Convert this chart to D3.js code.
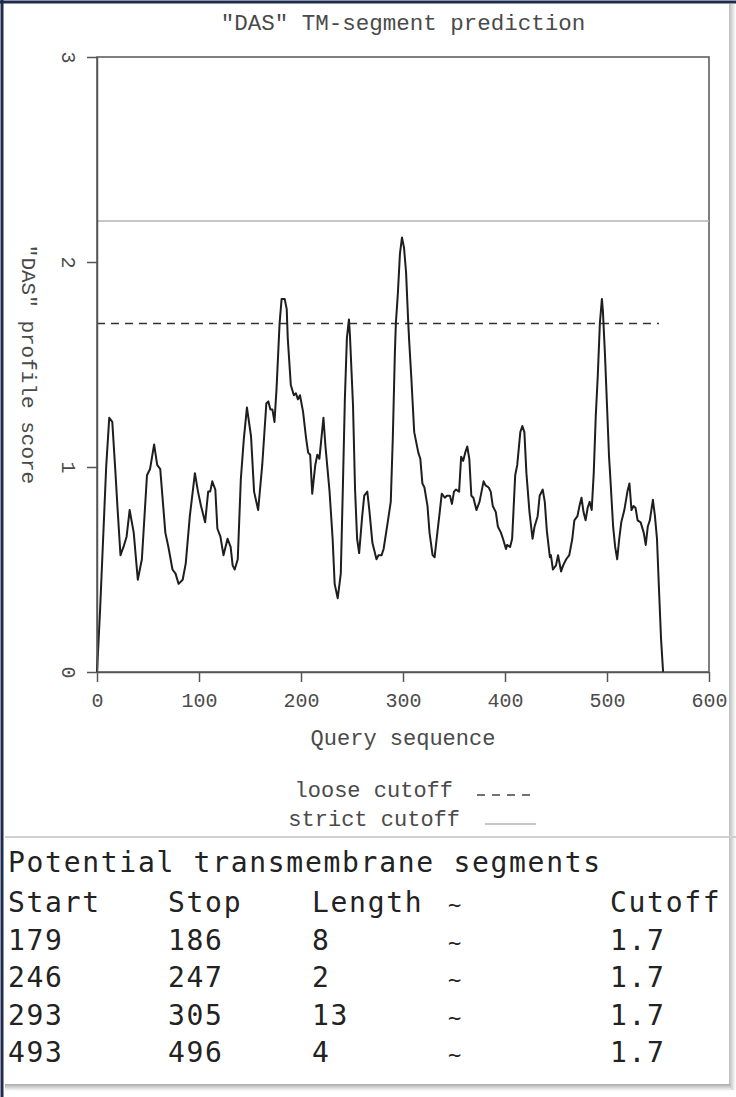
<!DOCTYPE html>
<html>
<head>
<meta charset="utf-8">
<script src="https://cdn.jsdelivr.net/npm/d3@7"></script>
<style>
  body { margin: 0; background: #fff; }
  svg { display: block; }
</style>
</head>
<body>
<div id="canvas"></div>
<script>
// DAS profile (residue position, score)
const residue = [0, 3, 6, 9, 12, 15, 18, 20, 23, 26, 29, 32, 36, 40, 44, 49, 52, 56, 59, 62,
  67, 70, 74, 77, 80, 84, 87, 91, 96, 99, 102, 106, 109, 111, 113, 116, 118, 121, 124, 128,
  131, 133, 135, 138, 141, 144, 147, 151, 154, 158, 162, 166, 168, 170, 172, 174, 176, 179, 181, 184,
  186, 187, 190, 193, 195, 197, 199, 202, 205, 207, 209, 211, 214, 216, 218, 220, 222, 224, 228, 231,
  233, 236, 239, 241, 243, 245, 247, 248, 251, 253, 255, 257, 260, 262, 265, 267, 270, 274, 276, 279,
  281, 285, 288, 290, 292, 293, 295, 297, 299, 301, 303, 305, 306, 308, 311, 315, 317, 319, 321, 324,
  326, 329, 331, 333, 336, 338, 341, 343, 346, 348, 350, 352, 355, 357, 359, 361, 363, 365, 367, 369,
  372, 375, 377, 379, 381, 384, 386, 388, 391, 393, 396, 398, 401, 402, 405, 407, 410, 412, 415, 417,
  419, 421, 424, 427, 429, 432, 434, 437, 439, 441, 444, 445, 447, 450, 452, 455, 457, 460, 463, 466,
  468, 471, 473, 475, 477, 479, 481, 483, 485, 487, 489, 491, 493, 495, 496, 498, 500, 502, 503, 506,
  508, 510, 512, 514, 517, 520, 522, 524, 526, 528, 530, 533, 536, 538, 540, 542, 545, 547, 549, 551,
  553, 555];
const score = [0, 0.30, 0.65, 1.00, 1.24, 1.22, 0.98, 0.81, 0.57, 0.61, 0.66, 0.79, 0.68, 0.45, 0.55, 0.96, 0.99, 1.11, 1.01, 0.99,
  0.68, 0.61, 0.50, 0.48, 0.43, 0.45, 0.53, 0.76, 0.97, 0.88, 0.81, 0.73, 0.88, 0.88, 0.93, 0.89, 0.70, 0.66, 0.57, 0.65,
  0.61, 0.52, 0.50, 0.55, 0.94, 1.14, 1.29, 1.15, 0.88, 0.79, 1.01, 1.31, 1.32, 1.28, 1.28, 1.22, 1.38, 1.70, 1.82, 1.82,
  1.77, 1.63, 1.40, 1.35, 1.36, 1.33, 1.35, 1.27, 1.14, 1.07, 1.06, 0.87, 1.01, 1.06, 1.04, 1.14, 1.24, 1.10, 0.88, 0.65,
  0.43, 0.36, 0.48, 0.89, 1.33, 1.63, 1.72, 1.64, 1.30, 0.89, 0.65, 0.58, 0.76, 0.86, 0.88, 0.79, 0.63, 0.55, 0.57, 0.57,
  0.60, 0.73, 0.83, 1.14, 1.55, 1.70, 1.85, 2.04, 2.12, 2.07, 1.95, 1.72, 1.62, 1.45, 1.17, 1.07, 1.04, 0.92, 0.90, 0.81,
  0.68, 0.57, 0.56, 0.65, 0.78, 0.87, 0.85, 0.86, 0.86, 0.82, 0.88, 0.89, 0.88, 1.05, 1.03, 1.07, 1.10, 1.04, 0.86, 0.85,
  0.79, 0.83, 0.88, 0.93, 0.91, 0.90, 0.88, 0.81, 0.78, 0.71, 0.68, 0.65, 0.60, 0.62, 0.61, 0.65, 0.96, 1.01, 1.17, 1.20,
  1.17, 0.97, 0.78, 0.65, 0.71, 0.76, 0.86, 0.89, 0.83, 0.69, 0.56, 0.57, 0.50, 0.52, 0.57, 0.49, 0.52, 0.55, 0.57, 0.65,
  0.74, 0.76, 0.81, 0.85, 0.78, 0.74, 0.80, 0.83, 0.79, 0.97, 1.25, 1.45, 1.70, 1.82, 1.76, 1.55, 1.30, 1.05, 0.97, 0.71,
  0.61, 0.55, 0.65, 0.73, 0.79, 0.88, 0.92, 0.79, 0.81, 0.80, 0.74, 0.73, 0.68, 0.62, 0.71, 0.74, 0.84, 0.76, 0.65, 0.40,
  0.16, 0];

const xTicks = [0, 100, 200, 300, 400, 500, 600];
const yTicks = [0, 1, 2, 3];

// cutoff lines: value, start, end
const cutoffNames = ["loose", "strict"];
const cutoffValues = [1.7, 2.2];
const cutoffEnds = [551, 600];

// result table
const tableTitle = "Potential transmembrane segments";
const tableHeader = ["Start", "Stop", "Length", "~", "Cutoff"];
const segStart = [179, 246, 293, 493];
const segStop = [186, 247, 305, 496];
const segLength = [8, 2, 13, 4];
const segCutoff = ["1.7", "1.7", "1.7", "1.7"];

const W = 736, H = 1097;
const margin = { top: 57, left: 97, right: 27, bottom: 425 };
const iwidth = W - margin.left - margin.right;
const iheight = H - margin.top - margin.bottom;

const mono = "'Courier New', 'Liberation Mono', monospace";
const textCol = "#4a4a4a";

const svg = d3.select("#canvas").append("svg")
  .attr("width", W)
  .attr("height", H);

// frame of the screenshot
const defs = svg.append("defs");
const gr = defs.append("linearGradient").attr("id", "shR").attr("x1", 0).attr("x2", 1);
gr.append("stop").attr("offset", 0).attr("stop-color", "#bbb");
gr.append("stop").attr("offset", 1).attr("stop-color", "#fff");
const gb = defs.append("linearGradient").attr("id", "shB").attr("x1", 0).attr("x2", 0).attr("y1", 0).attr("y2", 1);
gb.append("stop").attr("offset", 0).attr("stop-color", "#aaa");
gb.append("stop").attr("offset", 1).attr("stop-color", "#fff");

svg.append("rect").attr("x", 729).attr("y", 4).attr("width", 7).attr("height", 1086).style("fill", "url(#shR)");
svg.append("rect").attr("x", 5).attr("y", 1084).attr("width", 726).attr("height", 7).style("fill", "url(#shB)");
svg.append("line").attr("x1", 2).attr("x2", 2).attr("y1", 0).attr("y2", H)
  .attr("stroke", "#1d2b4f").attr("stroke-width", 3);
svg.append("line").attr("x1", 0).attr("x2", W).attr("y1", 2).attr("y2", 2)
  .attr("stroke", "#1d2b4f").attr("stroke-width", 3);

// title
svg.append("text")
  .attr("x", 403).attr("y", 30)
  .attr("text-anchor", "middle")
  .style("font-family", mono).style("font-size", "22.5px").style("fill", textCol)
  .text('"DAS" TM-segment prediction');

const g = svg.append("g").attr("transform", `translate(${margin.left},${margin.top})`);

const x = d3.scaleLinear().domain([0, 600]).range([0, iwidth]);
const y = d3.scaleLinear().domain([0, 3]).range([iheight, 0]);

// box
g.append("rect")
  .attr("width", iwidth).attr("height", iheight)
  .attr("fill", "none").attr("stroke", "#555").attr("stroke-width", 1.5);

// cutoffs
g.selectAll(".cut")
  .data(cutoffNames)
  .enter()
  .append("line")
  .attr("class", "cut")
  .attr("x1", x(0))
  .attr("x2", (d, i) => x(cutoffEnds[i]))
  .attr("y1", (d, i) => y(cutoffValues[i]))
  .attr("y2", (d, i) => y(cutoffValues[i]))
  .attr("stroke", d => d === "loose" ? "#333" : "#b5b5b5")
  .attr("stroke-width", 1.5)
  .attr("stroke-dasharray", d => d === "loose" ? "8,6" : null);

// profile
const line = d3.line()
  .x((d, i) => x(residue[i]))
  .y(d => y(d));

g.append("path")
  .datum(score)
  .attr("d", line)
  .attr("fill", "none")
  .attr("stroke", "#1e1e1e")
  .attr("stroke-width", 2)
  .attr("stroke-linejoin", "round");

// axes
const xAxis = g.append("g")
  .attr("transform", `translate(0,${iheight})`)
  .call(d3.axisBottom(x).tickValues(xTicks).tickSize(10).tickSizeOuter(0));

const yAxis = g.append("g")
  .call(d3.axisLeft(y).tickValues(yTicks).tickFormat(d3.format("d")).tickSize(10).tickSizeOuter(0));

[xAxis, yAxis].forEach(a => {
  a.select(".domain").attr("stroke", "#555").attr("stroke-width", 1.5);
  a.selectAll(".tick line").attr("stroke", "#555").attr("stroke-width", 1.5);
  a.selectAll("text")
    .style("font-family", mono).style("font-size", "20px").style("fill", textCol);
});
xAxis.selectAll("text").attr("y", 21).attr("dy", "0.71em");
yAxis.selectAll("text")
  .attr("x", null).attr("dy", null)
  .attr("text-anchor", "middle")
  .attr("transform", "translate(-35,0) rotate(90)");

// axis titles
g.append("text")
  .attr("transform", `translate(${22 - margin.left},${iheight / 2}) rotate(90)`)
  .attr("text-anchor", "middle")
  .style("font-family", mono).style("font-size", "21px").style("fill", textCol)
  .text('"DAS" profile score');

g.append("text")
  .attr("x", iwidth / 2).attr("y", iheight + 73)
  .attr("text-anchor", "middle")
  .style("font-family", mono).style("font-size", "22px").style("fill", textCol)
  .text("Query sequence");

// legend
const legY = [797, 826];
const legend = svg.selectAll(".legend")
  .data(cutoffNames)
  .enter()
  .append("g")
  .attr("class", "legend")
  .attr("transform", (d, i) => `translate(0,${legY[i]})`);

legend.append("text")
  .attr("x", (d, i) => i === 0 ? 453 : 460)
  .attr("text-anchor", "end")
  .style("font-family", mono).style("font-size", "22px").style("fill", textCol)
  .text(d => d + " cutoff");

legend.append("line")
  .attr("x1", (d, i) => i === 0 ? 477 : 485)
  .attr("x2", (d, i) => i === 0 ? 530 : 536)
  .attr("y1", -2).attr("y2", -2)
  .attr("stroke", (d, i) => i === 0 ? "#444" : "#b5b5b5")
  .attr("stroke-width", 1.5)
  .attr("stroke-dasharray", (d, i) => i === 0 ? "8,7" : null);

// separator
svg.append("line")
  .attr("x1", 5).attr("x2", 736).attr("y1", 837).attr("y2", 837)
  .attr("stroke", "#d0d0d0").attr("stroke-width", 2);

// table
const tfont = "'DejaVu Sans Mono', monospace";
const colX = [8, 168, 312, 448, 610];
const rowY0 = 912, rowStep = 37.5;

svg.append("text")
  .attr("x", 8).attr("y", 872)
  .style("font-family", tfont).style("font-size", "28px").style("letter-spacing", "1.7px").style("fill", "#222")
  .text(tableTitle);

const rows = [tableHeader].concat(segStart.map((s, i) => [s, segStop[i], segLength[i], "~", segCutoff[i]]));

const tr = svg.selectAll(".row")
  .data(rows)
  .enter()
  .append("g")
  .attr("class", "row")
  .attr("transform", (d, i) => `translate(0,${rowY0 + i * rowStep})`);

tr.selectAll("text")
  .data(d => d)
  .enter()
  .append("text")
  .attr("x", (d, i) => colX[i])
  .style("font-family", tfont)
  .style("font-size", (d, i) => i === 3 ? "22px" : "28px")
  .style("letter-spacing", "1.7px")
  .style("fill", "#222")
  .text(d => d);
</script>
</body>
</html>
